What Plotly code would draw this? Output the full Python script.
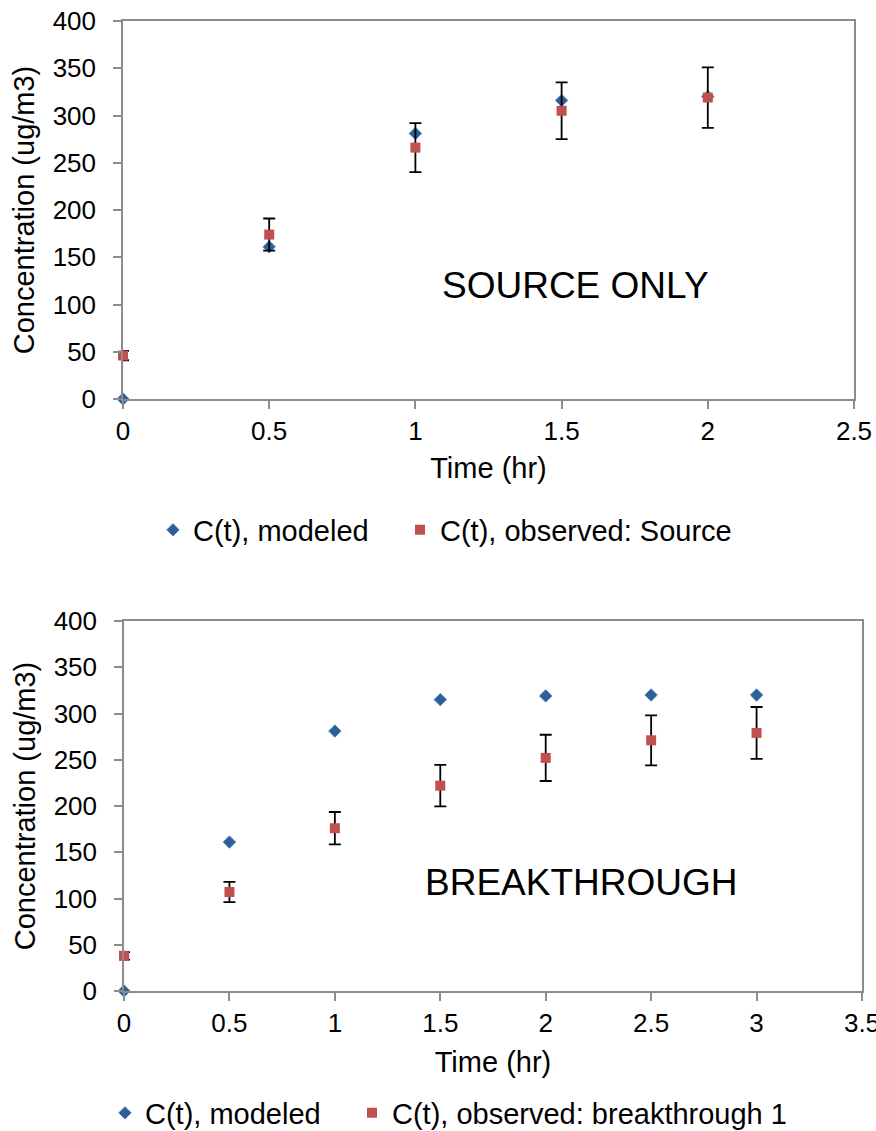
import plotly.graph_objects as go

# ---- Source-only test ----
time_src = [0, 0.5, 1, 1.5, 2]
modeled_src = [0, 161, 281, 316, 320]
observed_src = [46, 174, 266, 305, 319]
observed_src_err = [5, 17, 26, 30, 32]

# ---- Breakthrough test ----
time_bt = [0, 0.5, 1, 1.5, 2, 2.5, 3]
modeled_bt = [0, 161, 281, 315, 319, 320, 320]
observed_bt = [38, 107, 176, 222, 252, 271, 279]
observed_bt_err = [4, 11, 17.5, 22.5, 25, 27, 28]

y_ticks = [0, 50, 100, 150, 200, 250, 300, 350, 400]

FONT = "Liberation Sans, Arial, sans-serif"
BLUE = "#2F5F98"
BLUE_EDGE = "#4A7EBB"
RED = "#C0504D"
AXIS_GREY = "#8C8C8C"

W, H = 876, 1131
TICK_SIZE = 26
TITLE_SIZE = 29
LEGEND_SIZE = 29

fig = go.Figure()

def add_pair(t, mod, obs, err, xa, ya, leg_mod, leg_obs, obs_name):
    fig.add_trace(go.Scatter(
        x=t, y=mod, mode="markers", name="C(t), modeled",
        marker=dict(symbol="diamond", size=9.5, color=BLUE,
                    line=dict(color=BLUE_EDGE, width=1)),
        xaxis=xa, yaxis=ya, legend=leg_mod, cliponaxis=False,
    ))
    fig.add_trace(go.Scatter(
        x=t, y=obs, mode="markers", name=obs_name,
        marker=dict(symbol="square", size=10, color=RED,
                    line=dict(color=RED, width=0)),
        error_y=dict(type="data", array=err, visible=True,
                     color="black", thickness=1.8, width=6),
        xaxis=xa, yaxis=ya, legend=leg_obs, cliponaxis=False,
    ))

add_pair(time_src, modeled_src, observed_src, observed_src_err,
         "x", "y", "legend", "legend2", "C(t), observed: Source")
add_pair(time_bt, modeled_bt, observed_bt, observed_bt_err,
         "x2", "y2", "legend3", "legend4", "C(t), observed: breakthrough 1")

def px_x(p):
    return p / W

def px_y(p):
    return 1 - p / H

axis_common = dict(
    showline=True, linecolor=AXIS_GREY, linewidth=1.5, mirror=True,
    ticks="outside", tickcolor=AXIS_GREY, tickwidth=1.5, ticklen=8,
    showgrid=False, zeroline=False, ticklabeloverflow="allow",
    tickfont=dict(family=FONT, size=TICK_SIZE, color="black"),
)
x_title_top = dict(text="Time (hr)", font=dict(family=FONT, size=TITLE_SIZE), standoff=13)
x_title_bot = dict(text="Time (hr)", font=dict(family=FONT, size=TITLE_SIZE), standoff=15)
y_title = dict(text="Concentration (ug/m3)", font=dict(family=FONT, size=TITLE_SIZE), standoff=10)

def legend_box(px, py):
    return dict(orientation="h", x=px_x(px), y=px_y(py), xanchor="left", yanchor="middle",
                font=dict(family=FONT, size=LEGEND_SIZE), bgcolor="rgba(0,0,0,0)")

fig.update_layout(
    width=W, height=H,
    margin=dict(l=0, r=0, t=0, b=0, autoexpand=False),
    paper_bgcolor="white", plot_bgcolor="white",
    font=dict(family=FONT, color="black"),
    xaxis=dict(domain=[px_x(123), px_x(854)], range=[0, 2.5],
               tickvals=[0, 0.5, 1, 1.5, 2, 2.5], anchor="y",
               title=x_title_top, **axis_common),
    yaxis=dict(domain=[px_y(399), px_y(21)], range=[0, 400],
               tickvals=y_ticks, anchor="x", ticklabelstandoff=12,
               title=y_title, **axis_common),
    xaxis2=dict(domain=[px_x(124), px_x(862)], range=[0, 3.5],
                tickvals=[0, 0.5, 1, 1.5, 2, 2.5, 3, 3.5], anchor="y2",
                title=x_title_bot, **axis_common),
    yaxis2=dict(domain=[px_y(991), px_y(621)], range=[0, 400],
                tickvals=y_ticks, anchor="x2", ticklabelstandoff=12,
                title=y_title, **axis_common),
    legend=legend_box(153, 530),
    legend2=legend_box(400, 530),
    legend3=legend_box(105, 1113),
    legend4=legend_box(352, 1113),
    showlegend=True,
)

fig.add_annotation(text="SOURCE ONLY", x=1.549, y=120, xref="x", yref="y",
                   showarrow=False, font=dict(family=FONT, size=37, color="black"))
fig.add_annotation(text="BREAKTHROUGH", x=2.167, y=117, xref="x2", yref="y2",
                   showarrow=False, font=dict(family=FONT, size=37, color="black"))

fig.write_html("out.html")
